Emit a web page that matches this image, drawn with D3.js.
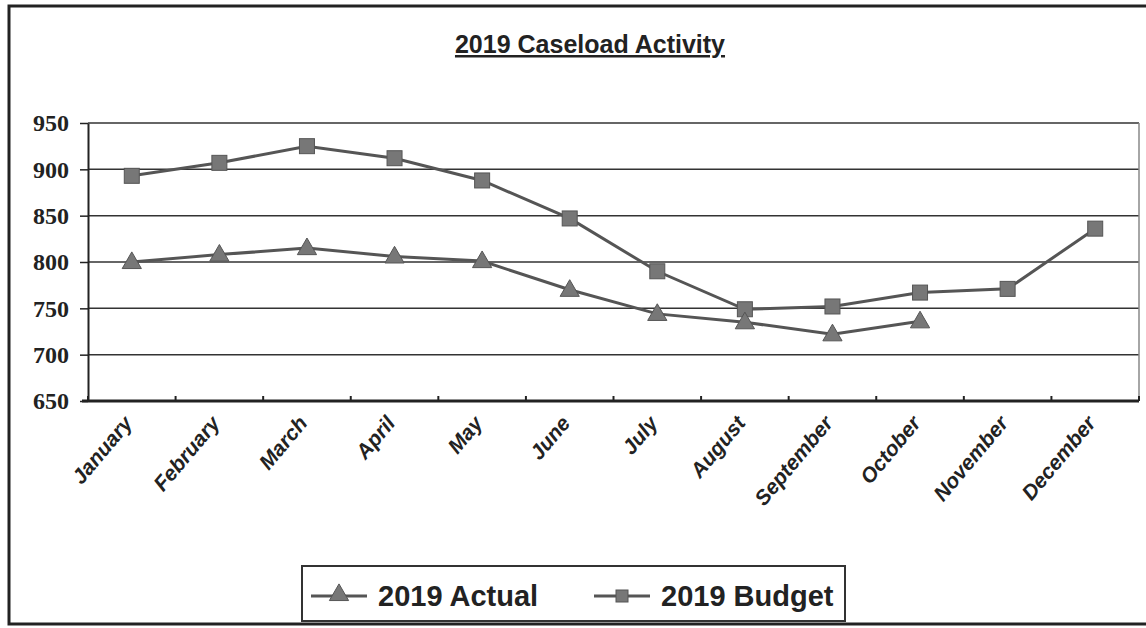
<!DOCTYPE html>
<html lang="en">
<head>
    <meta charset="UTF-8">
    <title>2019 Caseload Activity</title>
    <script src="https://d3js.org/d3.v7.min.js"></script>
    <style>
        body { margin: 0; background: #fff; }
        svg { display: block; }
    </style>
</head>
<body>
<svg width="1146" height="628"></svg>
<script>
    // data
    const months = ["January", "February", "March", "April", "May", "June",
        "July", "August", "September", "October", "November", "December"];
    const actual = [800, 808, 815, 806, 801, 770, 744, 735, 722, 736];
    const budget = [893, 907, 925, 912, 888, 847, 790, 749, 752, 767, 771, 836];
    const yTicks = [650, 700, 750, 800, 850, 900, 950];

    let svg = d3.select("svg");
    const margin = {left: 88, right: 1139, top: 123, bottom: 401};

    // outer frame (no right edge visible in the picture)
    svg.append("path")
        .attr("d", "M1146,6 L9,6 L9,624 L1146,624")
        .attr("fill", "none")
        .attr("stroke", "#222")
        .attr("stroke-width", 3);

    // title
    svg.append("text")
        .attr("x", 590).attr("y", 53)
        .attr("text-anchor", "middle")
        .style("font-family", "Liberation Sans, Arial, sans-serif")
        .style("font-weight", "bold")
        .style("font-size", "25px")
        .style("text-decoration", "underline")
        .attr("fill", "#222")
        .text("2019 Caseload Activity");

    let x = d3.scaleBand().domain(months).range([margin.left, margin.right]);
    let y = d3.scaleLinear().domain([650, 950]).range([margin.bottom, margin.top]);

    // gridlines
    svg.append("g")
        .selectAll("line")
        .data(yTicks.slice(1))
        .enter()
        .append("line")
        .attr("x1", margin.left).attr("x2", margin.right)
        .attr("y1", d => y(d)).attr("y2", d => y(d))
        .attr("stroke", "#333")
        .attr("stroke-width", 1.5);

    // right border of plot
    svg.append("line")
        .attr("x1", margin.right).attr("x2", margin.right)
        .attr("y1", margin.top).attr("y2", margin.bottom)
        .attr("stroke", "#888").attr("stroke-width", 1.5);

    // y axis
    let yAxis = svg.append("g")
        .attr("transform", `translate(${margin.left},0)`)
        .call(d3.axisLeft(y).tickValues(yTicks).tickSize(8).tickSizeOuter(0));
    yAxis.select(".domain").attr("stroke", "#222").attr("stroke-width", 2);
    yAxis.selectAll(".tick line").attr("stroke", "#222").attr("stroke-width", 1.5);
    yAxis.selectAll("text")
        .attr("x", -19)
        .attr("fill", "#222")
        .style("font-family", "Liberation Serif, Times New Roman, serif")
        .style("font-weight", "bold")
        .style("font-size", "24px");

    // x axis: ticks between categories, pointing up
    let bounds = d3.range(months.length + 1).map(i => margin.left + i * x.bandwidth());
    svg.append("g")
        .selectAll("line")
        .data(bounds)
        .enter()
        .append("line")
        .attr("x1", d => d).attr("x2", d => d)
        .attr("y1", margin.bottom).attr("y2", margin.bottom - 5)
        .attr("stroke", "#222").attr("stroke-width", 2);
    svg.append("line")
        .attr("x1", margin.left - 6).attr("x2", margin.right)
        .attr("y1", margin.bottom).attr("y2", margin.bottom)
        .attr("stroke", "#222").attr("stroke-width", 3);

    svg.append("g")
        .selectAll("text")
        .data(months)
        .enter()
        .append("text")
        .attr("transform", d => `translate(${x(d) + x.bandwidth() / 2 - 4},${margin.bottom + 18}) rotate(-50)`)
        .attr("text-anchor", "end")
        .attr("dy", "0.35em")
        .attr("fill", "#222")
        .style("font-family", "Liberation Sans, Arial, sans-serif")
        .style("font-weight", "bold")
        .style("font-style", "italic")
        .style("font-size", "21px")
        .text(d => d);

    // lines
    let line = d3.line()
        .x((d, i) => x(months[i]) + x.bandwidth() / 2)
        .y(d => y(d));

    const seriesColor = "#555";
    const markerFill = "#777";

    svg.append("path")
        .datum(budget)
        .attr("d", line)
        .attr("fill", "none")
        .attr("stroke", seriesColor)
        .attr("stroke-width", 3);

    svg.append("path")
        .datum(actual)
        .attr("d", line)
        .attr("fill", "none")
        .attr("stroke", seriesColor)
        .attr("stroke-width", 3);

    // markers
    svg.append("g")
        .selectAll("rect")
        .data(budget)
        .enter()
        .append("rect")
        .attr("x", (d, i) => x(months[i]) + x.bandwidth() / 2 - 7.5)
        .attr("y", d => y(d) - 7.5)
        .attr("width", 15).attr("height", 15)
        .attr("fill", markerFill)
        .attr("stroke", "#555").attr("stroke-width", 1);

    let tri = d3.symbol().type(d3.symbolTriangle).size(160);
    svg.append("g")
        .selectAll("path")
        .data(actual)
        .enter()
        .append("path")
        .attr("d", tri)
        .attr("transform", (d, i) => `translate(${x(months[i]) + x.bandwidth() / 2},${y(d) + 1})`)
        .attr("fill", markerFill)
        .attr("stroke", "#555").attr("stroke-width", 1);

    // legend
    let legend = svg.append("g");
    legend.append("rect")
        .attr("x", 302).attr("y", 566)
        .attr("width", 543).attr("height", 55)
        .attr("fill", "#fff")
        .attr("stroke", "#333").attr("stroke-width", 2);

    const legendItems = [
        {label: "2019 Actual", x: 311, shape: "tri"},
        {label: "2019 Budget", x: 594, shape: "sq"}
    ];
    legendItems.forEach(item => {
        legend.append("line")
            .attr("x1", item.x).attr("x2", item.x + 56)
            .attr("y1", 596).attr("y2", 596)
            .attr("stroke", seriesColor).attr("stroke-width", 3);
        if (item.shape === "tri") {
            legend.append("path")
                .attr("d", tri)
                .attr("transform", `translate(${item.x + 28},595)`)
                .attr("fill", markerFill).attr("stroke", "#555");
        } else {
            legend.append("rect")
                .attr("x", item.x + 22).attr("y", 590)
                .attr("width", 12).attr("height", 12)
                .attr("fill", markerFill).attr("stroke", "#555");
        }
        legend.append("text")
            .attr("x", item.x + 67).attr("y", 606)
            .attr("fill", "#222")
            .style("font-family", "Liberation Sans, Arial, sans-serif")
            .style("font-weight", "bold")
            .style("font-size", "29px")
            .text(item.label);
    });
</script>
</body>
</html>
